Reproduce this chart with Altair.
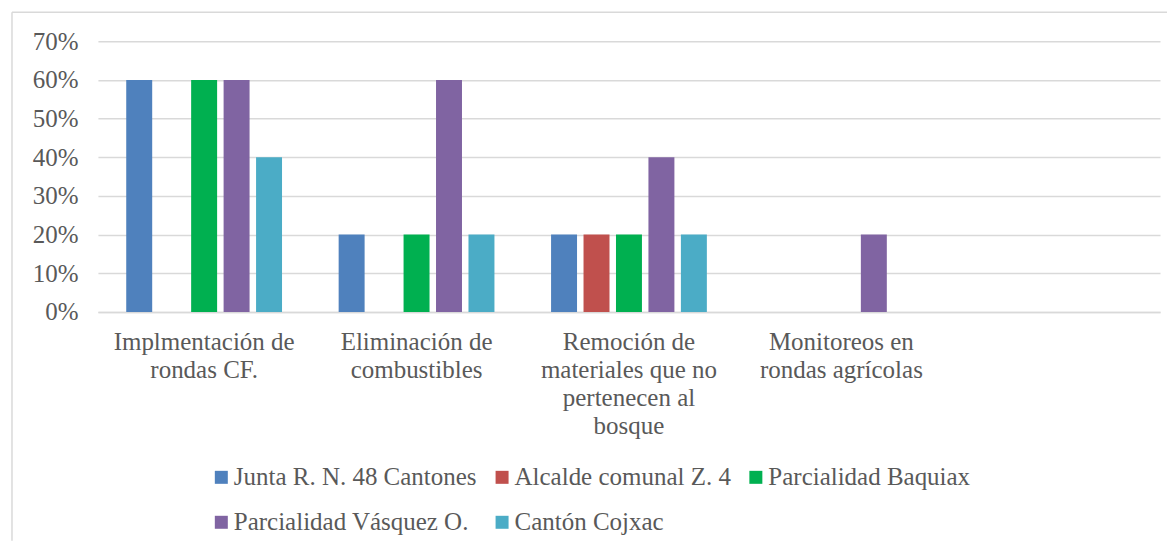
import altair as alt
import pandas as pd

categories = [
    "Implmentación de|rondas CF.",
    "Eliminación de|combustibles",
    "Remoción de|materiales que no|pertenecen al|bosque",
    "Monitoreos en|rondas agrícolas",
    " ",
]
series = [
    "Junta R. N. 48 Cantones",
    "Alcalde comunal Z. 4",
    "Parcialidad Baquiax",
    "Parcialidad Vásquez O.",
    "Cantón Cojxac",
]
colors = ["#4F81BD", "#C0504D", "#00B050", "#8064A2", "#4BACC6"]

junta = [0.6, 0.2, 0.2, 0.0]
alcalde = [0.0, 0.0, 0.2, 0.0]
baquiax = [0.6, 0.2, 0.2, 0.0]
vasquez = [0.6, 0.6, 0.4, 0.2]
cojxac = [0.4, 0.2, 0.2, 0.0]
y_ticks = [0, 0.1, 0.2, 0.3, 0.4, 0.5, 0.6, 0.7]

rows = []
for name, vals in zip(series, [junta, alcalde, baquiax, vasquez, cojxac]):
    for cat, v in zip(categories[:4], vals):
        rows.append({"cat": cat, "serie": name, "value": v})
df = pd.DataFrame(rows)

FONT = "'Liberation Serif', 'DejaVu Serif', serif"
TXT = "#595959"
GRID = "#d9d9d9"

bars = alt.Chart(df).mark_bar().encode(
    x=alt.X(
        "cat:N",
        sort=categories,
        scale=alt.Scale(domain=categories, paddingInner=0.236, paddingOuter=0.118),
        axis=alt.Axis(
            title=None,
            labelAngle=0,
            labelExpr="split(datum.label, '|')",
            labelFont=FONT,
            labelFontSize=25,
            labelColor=TXT,
            labelLineHeight=28,
            labelPadding=18,
            labelLimit=400,
            ticks=False,
            domainColor=GRID,
            domainWidth=1.5,
        ),
    ),
    xOffset=alt.XOffset(
        "serie:N",
        sort=series,
        scale=alt.Scale(domain=series, paddingInner=0.2, paddingOuter=0.1),
    ),
    y=alt.Y(
        "value:Q",
        scale=alt.Scale(domain=[0, 0.7]),
        axis=alt.Axis(
            title=None,
            format=".0%",
            values=y_ticks,
            labelFont=FONT,
            labelFontSize=25,
            labelColor=TXT,
            labelPadding=20,
            ticks=False,
            domain=False,
            gridColor=GRID,
            gridWidth=1.5,
        ),
    ),
    color=alt.Color(
        "serie:N",
        sort=series,
        scale=alt.Scale(domain=series, range=colors),
        legend=alt.Legend(
            title=None,
            orient="none",
            legendX=111,
            legendY=424,
            direction="horizontal",
            columns=3,
            gridAlign="none",
            columnPadding=12,
            rowPadding=19,
            symbolType="square",
            symbolSize=169,
            symbolStrokeWidth=0,
            labelFont=FONT,
            labelFontSize=25,
            labelColor=TXT,
            labelOffset=0,
            labelLimit=400,
            padding=0,
        ),
    ),
)

border_left = alt.Chart(pd.DataFrame({"a": [0]})).mark_rule(
    color=GRID, strokeWidth=1.5
).encode(x=alt.value(-86), y=alt.value(-29), y2=alt.value(500))
border_top = alt.Chart(pd.DataFrame({"a": [0]})).mark_rule(
    color=GRID, strokeWidth=1.5
).encode(y=alt.value(-29), x=alt.value(-86), x2=alt.value(1070))

chart = alt.layer(bars, border_left, border_top).properties(
    width=1063,
    height=271,
    padding={"left": 3, "top": 3, "right": 0, "bottom": 0},
).configure_view(stroke=None)

chart.save("out.html", embed_options={"renderer": "svg", "actions": False})
